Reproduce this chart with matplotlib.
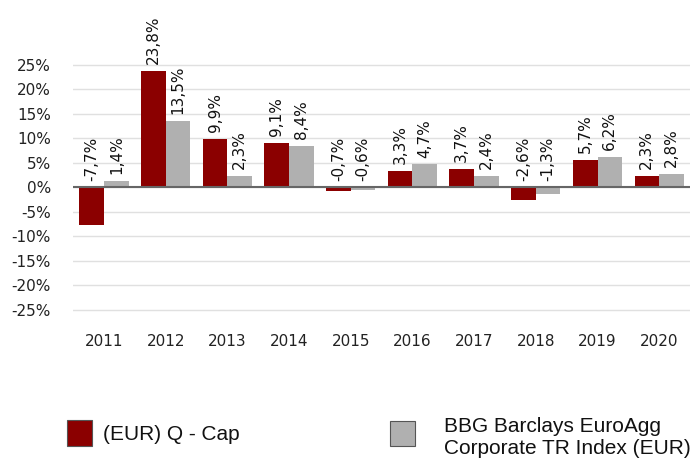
import matplotlib
matplotlib.use('Agg')
import matplotlib.pyplot as plt
from matplotlib.patches import Rectangle
import numpy as np

# Dati
years = ['2011', '2012', '2013', '2014', '2015', '2016', '2017', '2018', '2019', '2020']
fund = [-7.7, 23.8, 9.9, 9.1, -0.7, 3.3, 3.7, -2.6, 5.7, 2.3]
bench = [1.4, 13.5, 2.3, 8.4, -0.6, 4.7, 2.4, -1.3, 6.2, 2.8]
yticks = [-25, -20, -15, -10, -5, 0, 5, 10, 15, 20, 25]

red = '#8b0000'
grey = '#b0b0b0'

fig = plt.figure(figsize=(6.97, 4.58), dpi=100)
ax = fig.add_axes([0.105, 0.2697, 0.885, 0.6419])

x = np.arange(len(years))
w = 0.4
ax.bar(x - w/2, fund, w, color=red, zorder=2)
ax.bar(x + w/2, bench, w, color=grey, zorder=2)

# etichette sulle barre
for xs, vals in ((x - w/2, fund), (x + w/2, bench)):
    for xi, v in zip(xs, vals):
        ax.annotate(f'{v:.1f}%'.replace('.', ','), (xi, max(v, 0)),
                    xytext=(0, 5), textcoords='offset points',
                    rotation=90, ha='center', va='bottom',
                    fontsize=11, color='#111111', annotation_clip=False)

ax.axhline(0, color='#666666', lw=1.5, zorder=3)
ax.set_ylim(-30, 30)
ax.set_xlim(-0.5, len(years) - 0.5)
ax.set_yticks(yticks)
ax.set_yticklabels([f'{t}%' for t in yticks], fontsize=11, color='#222222')
ax.set_xticks(x)
ax.set_xticklabels(years, fontsize=11, color='#222222')
ax.tick_params(length=0)
ax.tick_params(axis='y', pad=16)
ax.tick_params(axis='x', pad=0)
ax.yaxis.grid(True, color='#e0e0e0', lw=1, zorder=0)
for s in ax.spines.values():
    s.set_visible(False)

# legenda
W, H = 697, 458
def fx(px):
    return px / W
def fy(py):
    return 1 - py / H

fig.patches.append(Rectangle((fx(67), fy(446)), fx(25), 26 / H, transform=fig.transFigure,
                             facecolor=red, edgecolor='#555555', lw=0.8))
fig.patches.append(Rectangle((fx(390), fy(446)), fx(25), 25 / H, transform=fig.transFigure,
                             facecolor=grey, edgecolor='#555555', lw=0.8))
fig.text(fx(103), fy(435), '(EUR) Q - Cap', fontsize=15, family='Liberation Sans',
         va='center', ha='left', color='#111111')
fig.text(fx(444), fy(437), 'BBG Barclays EuroAgg\nCorporate TR Index (EUR)', fontsize=15,
         family='Liberation Sans', va='center', ha='left', color='#111111', linespacing=1.2)

fig.savefig('out.png', dpi=100)
